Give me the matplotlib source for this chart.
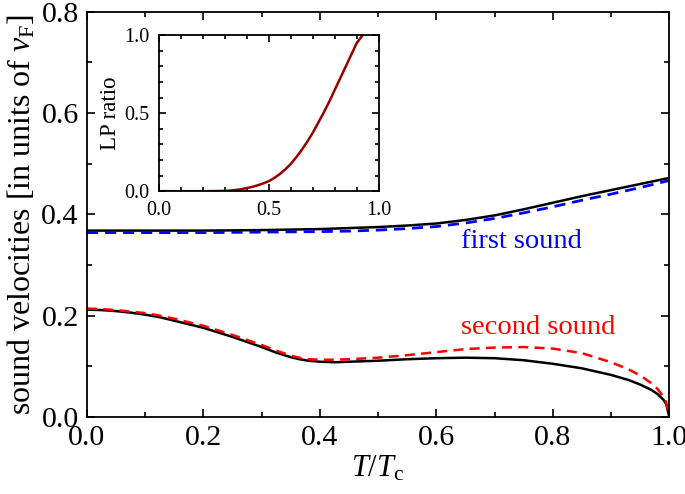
import matplotlib
matplotlib.use("Agg")
import matplotlib.pyplot as plt
from matplotlib.ticker import MultipleLocator

plt.rcParams["font.family"] = ["Liberation Serif", "DejaVu Serif"]
plt.rcParams["mathtext.fontset"] = "custom"
plt.rcParams["mathtext.rm"] = "Liberation Serif"
plt.rcParams["mathtext.it"] = "Liberation Serif:italic"

# first sound
t_first = [0.0, 0.1, 0.2, 0.3, 0.4, 0.45, 0.5, 0.55, 0.6, 0.65, 0.7, 0.75, 0.8,
           0.85, 0.9, 0.95, 1.0]
first_black = [0.368, 0.368, 0.368, 0.369, 0.371, 0.373, 0.375, 0.378, 0.382, 0.389,
               0.398, 0.410, 0.423, 0.436, 0.448, 0.460, 0.472]
first_blue = [0.364, 0.364, 0.364, 0.365, 0.366, 0.367, 0.369, 0.372, 0.376, 0.383,
              0.392, 0.403, 0.415, 0.428, 0.440, 0.453, 0.467]

# second sound
t_second = [0.0, 0.025, 0.05, 0.075, 0.1, 0.125, 0.15, 0.175, 0.2, 0.225, 0.25,
            0.275, 0.3, 0.325, 0.35, 0.365, 0.38, 0.4, 0.425, 0.45, 0.5, 0.55,
            0.6, 0.65, 0.7, 0.75, 0.8, 0.85, 0.9, 0.93, 0.95, 0.97, 0.98, 0.99,
            0.995, 1.0]
second_black = [0.212, 0.211, 0.209, 0.206, 0.202, 0.197, 0.190, 0.183, 0.176,
                0.167, 0.158, 0.148, 0.138, 0.127, 0.118, 0.114, 0.111, 0.109,
                0.108, 0.109, 0.111, 0.114, 0.116, 0.117, 0.116, 0.112, 0.105,
                0.096, 0.083, 0.073, 0.064, 0.053, 0.045, 0.034, 0.025, 0.0]
second_red = [0.214, 0.213, 0.211, 0.208, 0.205, 0.200, 0.194, 0.187, 0.180,
              0.171, 0.162, 0.152, 0.142, 0.131, 0.121, 0.117, 0.114, 0.113,
              0.113, 0.114, 0.117, 0.122, 0.128, 0.134, 0.137, 0.138, 0.135,
              0.126, 0.108, 0.094, 0.082, 0.066, 0.055, 0.040, 0.028, 0.0]

# inset: LP ratio
t_lp = [0.0, 0.2, 0.25, 0.3, 0.325, 0.35, 0.375, 0.4, 0.425, 0.45, 0.475, 0.5,
        0.525, 0.55, 0.575, 0.6, 0.625, 0.65, 0.675, 0.7, 0.725, 0.75, 0.775,
        0.8, 0.825, 0.85, 0.875, 0.9, 0.927]
lp_ratio = [0.0, 0.0, 0.0005, 0.002, 0.004, 0.008, 0.013, 0.02, 0.028, 0.038,
            0.05, 0.064, 0.085, 0.11, 0.14, 0.175, 0.218, 0.265, 0.318, 0.375,
            0.44, 0.505, 0.575, 0.65, 0.725, 0.8, 0.875, 0.95, 1.0]


def style_axes(ax, major_len, minor_len, labelsize, pad):
    ax.tick_params(which="both", direction="in", top=True, right=True,
                   width=1.2, labelsize=labelsize)
    ax.tick_params(which="major", length=major_len, pad=pad)
    ax.tick_params(which="minor", length=minor_len)
    for sp in ax.spines.values():
        sp.set_linewidth(1.3)


fig = plt.figure(figsize=(6.85, 4.94), dpi=100)
ax = fig.add_axes([0.127, 0.156, 0.850, 0.820])

ax.plot(t_first, first_black, color="black", lw=1.8)
ax.plot(t_first, first_blue, color="#0000ff", lw=2.0, dashes=(4, 2.5))
ax.plot(t_second, second_black, color="black", lw=1.8)
ax.plot(t_second, second_red, color="#ff0000", lw=1.8, dashes=(4, 2.5))

ax.text(0.747, 0.347, "first sound", color="#0000ff", fontsize=20.5,
        ha="center", va="center")
ax.text(0.775, 0.176, "second sound", color="#ff0000", fontsize=20.5,
        ha="center", va="center")

ax.set_xlim(0, 1.0)
ax.set_ylim(0, 0.8)
ax.xaxis.set_major_locator(MultipleLocator(0.2))
ax.xaxis.set_minor_locator(MultipleLocator(0.1))
ax.yaxis.set_major_locator(MultipleLocator(0.2))
ax.yaxis.set_minor_locator(MultipleLocator(0.1))
style_axes(ax, 6, 3.5, 21.5, 6)
ax.set_xlabel(r"$T/T_\mathrm{c}$", fontsize=22, labelpad=2)
ax.set_ylabel(r"sound velocities [in units of $v_\mathrm{F}$]", fontsize=23,
              labelpad=3)

ins = fig.add_axes([0.232, 0.613, 0.321, 0.316])
ins.plot(t_lp, lp_ratio, color="#990000", lw=1.8)
ins.set_xlim(0, 1.0)
ins.set_ylim(0, 1.0)
ins.xaxis.set_major_locator(MultipleLocator(0.5))
ins.xaxis.set_minor_locator(MultipleLocator(0.1))
ins.yaxis.set_major_locator(MultipleLocator(0.5))
ins.yaxis.set_minor_locator(MultipleLocator(0.1))
style_axes(ins, 5, 3, 14.5, 7)
ins.set_ylabel("LP ratio", fontsize=16.5, labelpad=2)

fig.savefig("out.png", dpi=100)
